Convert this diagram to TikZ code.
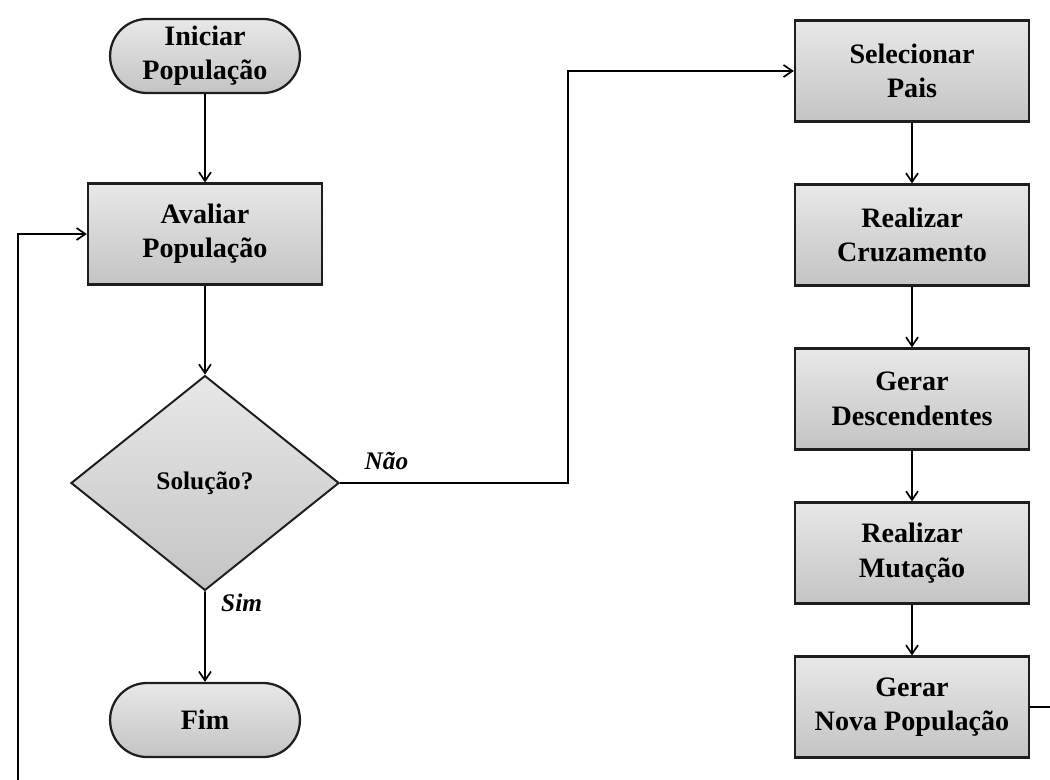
\documentclass[tikz,border=0pt]{standalone}
\usepackage{fontspec}
\setmainfont{Liberation Serif}
\usepackage{xcolor}
\usepackage{tikz}
\usetikzlibrary{shapes.geometric, shapes.misc, arrows.meta, positioning, calc}
\definecolor{boxtop}{RGB}{232, 232, 232}
\definecolor{boxbottom}{RGB}{196, 196, 196}
\definecolor{edgecolor}{RGB}{30, 30, 30}

\begin{document}
\begin{tikzpicture}[
    x=0.025cm, y=-0.025cm,
    process/.style={draw=edgecolor, line width=1.6pt, top color=boxtop, bottom color=boxbottom, minimum width=5.85cm, minimum height=2.52cm, align=center, font=\fontsize{20}{24.5}\selectfont\bfseries},
    terminal/.style={draw=edgecolor, line width=1.6pt, top color=boxtop, bottom color=boxbottom, rounded rectangle, minimum width=4.98cm, minimum height=1.85cm, align=center, font=\fontsize{20}{24.5}\selectfont\bfseries},
    decision/.style={draw=edgecolor, line width=1.4pt, top color=boxtop, bottom color=boxbottom, diamond, inner sep=0pt, minimum width=6.7cm, minimum height=5.37cm, font=\fontsize{18}{21}\selectfont\bfseries},
    arrow/.style={-{Straight Barb[length=2.2mm, width=3mm]}, line width=1.2pt},
    label/.style={font=\fontsize{18}{21}\selectfont\bfseries\itshape}
]
    \useasboundingbox (0,0) rectangle (1050,780);

    % Left column
    \node[terminal] (iniciar) at (205, 56) {Iniciar\\População};
    \node[process] (avaliar) at (205, 234) {Avaliar\\População};
    \node[decision] (solucao) at (205, 483) {Solução?};
    \node[terminal] (fim) at (205, 720) {Fim};

    % Right column
    \node[process] (selecionar) at (912, 71) {Selecionar\\Pais};
    \node[process] (cruzamento) at (912, 235) {Realizar\\Cruzamento};
    \node[process] (descendentes) at (912, 399) {Gerar\\Descendentes};
    \node[process] (mutacao) at (912, 553) {Realizar\\Mutação};
    \node[process] (novapop) at (912, 707) {Gerar\\Nova População};

    % Labels
    \node[label, anchor=south west] (nao) at ([xshift=14, yshift=6]solucao.east) {Não};
    \node[label, anchor=north west] (sim) at ([xshift=8, yshift=2]solucao.south) {Sim};

    % Corners of the loop
    \coordinate (loopright) at (1075, 707);
    \coordinate (loopleft) at (18, 800);

    % Connections
    \draw[arrow] (iniciar) -- (avaliar);
    \draw[arrow] (avaliar) -- (solucao);
    \draw[arrow] (solucao) -- (fim);
    \draw[arrow] (solucao.east) -| (568, 71) -- (selecionar.west);
    \draw[arrow] (selecionar) -- (cruzamento);
    \draw[arrow] (cruzamento) -- (descendentes);
    \draw[arrow] (descendentes) -- (mutacao);
    \draw[arrow] (mutacao) -- (novapop);
    \draw[arrow] (novapop.east) -- (loopright) |- (loopleft) |- (avaliar.west);

\end{tikzpicture}
\end{document}
